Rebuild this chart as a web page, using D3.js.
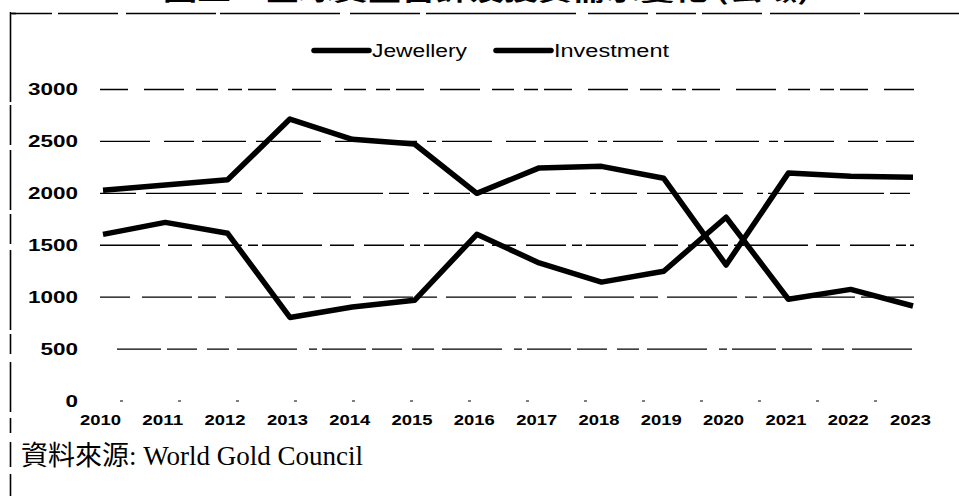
<!DOCTYPE html>
<html>
<head>
<meta charset="utf-8">
<script src="https://cdn.jsdelivr.net/npm/d3@7"></script>
<style>
  html, body { margin: 0; padding: 0; background: #fff; }
  svg { display: block; }
</style>
</head>
<body>
<svg id="chart" width="959" height="496"></svg>
<script>
// Gold demand (tonnes), 2010–2023
const years = [2010, 2011, 2012, 2013, 2014, 2015, 2016, 2017, 2018, 2019, 2020, 2021, 2022, 2023];
const jewellery = [2030, 2080, 2130, 2715, 2520, 2475, 2000, 2245, 2260, 2145, 1310, 2195, 2165, 2155];
const investment = [1605, 1720, 1615, 805, 905, 970, 1605, 1330, 1145, 1250, 1770, 980, 1075, 915];
const yTicks = [0, 500, 1000, 1500, 2000, 2500, 3000];
const seriesNames = ["Jewellery", "Investment"];
const titleText = "圖二：全球黃金首飾及投資需求變化 (公噸)";
const sourceText = "資料來源: World Gold Council";

const svg = d3.select("#chart");

const x = d3.scalePoint().domain(years).range([103, 913]);
const y = d3.scaleLinear().domain([0, 3000]).range([401, 89.5]);

// Frame: top rule and left rule
svg.append("line")
  .attr("x1", 12).attr("x2", 959).attr("y1", 13.5).attr("y2", 13.5)
  .attr("stroke", "#000").attr("stroke-width", 1.6)
  .attr("stroke-dasharray", "40,6,60,8,90,4,120,10,70,6,150,12,60,8");
svg.append("line")
  .attr("x1", 10.5).attr("x2", 10.5).attr("y1", 12).attr("y2", 496)
  .attr("stroke", "#000").attr("stroke-width", 1.6)
  .attr("stroke-dasharray", "90,3,40,5,60,4,30,6,80,4,20,8,50,6,15,9,25,7");
svg.append("line")
  .attr("x1", 10).attr("x2", 16).attr("y1", 13.5).attr("y2", 13.5)
  .attr("stroke", "#000").attr("stroke-width", 1.6);

// Title, running off the top edge
svg.append("text")
  .attr("x", 163).attr("y", 0)
  .attr("textLength", 647).attr("lengthAdjust", "spacingAndGlyphs")
  .attr("font-family", "'Noto Sans CJK TC', sans-serif")
  .attr("font-weight", "bold")
  .attr("font-size", 22)
  .attr("fill", "#000")
  .text(titleText);

// Horizontal gridlines
const dashes = [
  "44,6,30,10,22,8,60,12,8,5",
  "30,12,50,6,18,9,70,8,12,6",
  "60,8,24,10,40,6,10,4",
  "36,10,70,6,20,14,6,5",
  "50,14,30,8,44,10,9,6",
  "28,16,40,12,22,10,14,6"
];
const grid = svg.append("g");
grid.selectAll("line")
  .data(yTicks.filter(d => d > 0))
  .join("line")
  .attr("x1", d => d === 500 ? 117 : 100)
  .attr("x2", 914)
  .attr("y1", d => y(d)).attr("y2", d => y(d))
  .attr("stroke", "#000")
  .attr("stroke-width", 1.4)
  .attr("stroke-dasharray", (d, i) => dashes[i]);

// Baseline specks at zero
svg.append("line")
  .attr("x1", 120).attr("x2", 914)
  .attr("y1", y(0)).attr("y2", y(0))
  .attr("stroke", "#000").attr("stroke-width", 1.2)
  .attr("stroke-dasharray", "3,55");

// Y axis labels
const yAxis = d3.axisLeft(y).tickValues(yTicks).tickSize(0).tickPadding(0).tickFormat(d3.format("d"));
const yg = svg.append("g").attr("transform", "translate(78,0)").call(yAxis);
yg.select(".domain").remove();
yg.selectAll("text")
  .attr("font-family", "'Liberation Sans', Arial, sans-serif")
  .attr("font-weight", "bold")
  .attr("font-size", 17)
  .attr("textLength", d => String(d).length * 12.5)
  .attr("lengthAdjust", "spacingAndGlyphs")
  .attr("fill", "#000");

// X axis labels
const xAxis = d3.axisBottom(x).tickSize(0).tickPadding(0).tickFormat(d3.format("d"));
const xg = svg.append("g").attr("transform", "translate(-3,414)").call(xAxis);
xg.select(".domain").remove();
xg.selectAll("text")
  .attr("font-family", "'Liberation Sans', Arial, sans-serif")
  .attr("font-weight", "bold")
  .attr("font-size", 15)
  .attr("textLength", 41).attr("lengthAdjust", "spacingAndGlyphs")
  .attr("fill", "#000");

// Series lines
const line = d3.line().x((d, i) => x(years[i])).y(d => y(d));
[jewellery, investment].forEach(vals => {
  svg.append("path")
    .datum(vals)
    .attr("d", line)
    .attr("fill", "none")
    .attr("stroke", "#000")
    .attr("stroke-width", 5.5)
    .attr("stroke-linejoin", "round");
});

// Legend
const legendItems = [
  { name: seriesNames[0], x0: 314, w: 95 },
  { name: seriesNames[1], x0: 496, w: 115 }
];
const lg = svg.append("g");
legendItems.forEach(it => {
  lg.append("line")
    .attr("x1", it.x0).attr("x2", it.x0 + 55)
    .attr("y1", 50.5).attr("y2", 50.5)
    .attr("stroke", "#000").attr("stroke-width", 5.5).attr("stroke-linecap", "round");
  lg.append("text")
    .attr("x", it.x0 + 58).attr("y", 57)
    .attr("font-family", "'Liberation Sans', Arial, sans-serif")
    .attr("font-size", 18)
    .attr("textLength", it.w).attr("lengthAdjust", "spacingAndGlyphs")
    .attr("fill", "#000")
    .text(it.name);
});

// Source note
svg.append("text")
  .attr("x", 21).attr("y", 465)
  .attr("font-family", "'Liberation Serif', 'Times New Roman', 'Noto Sans CJK TC', serif")
  .attr("font-size", 27)
  .attr("fill", "#000")
  .text(sourceText);
</script>
</body>
</html>
